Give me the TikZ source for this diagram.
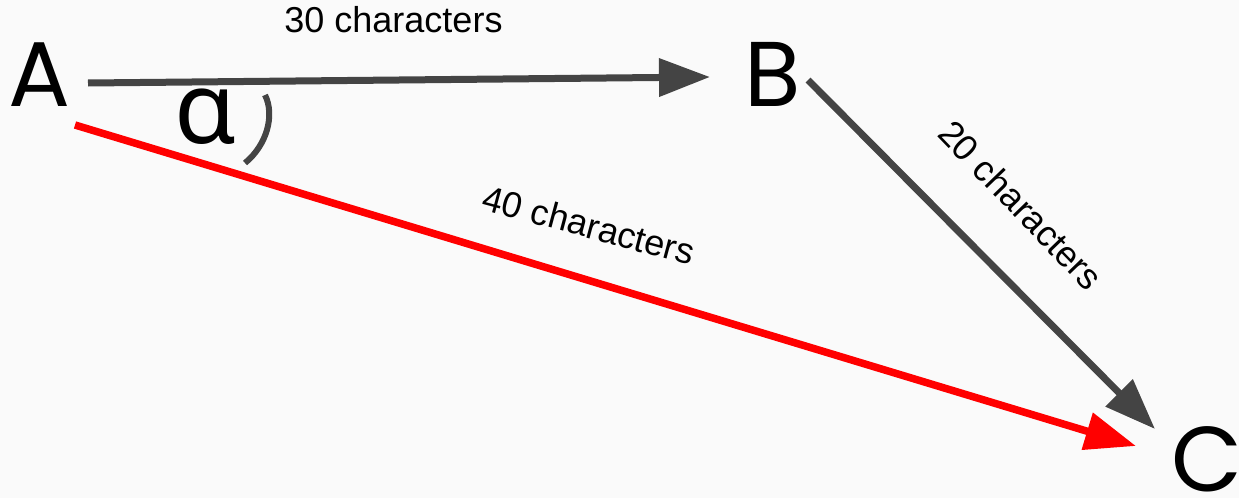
\documentclass[tikz,border=0pt]{standalone}
\usepackage{fontspec}
\setmainfont{Liberation Sans}
\newfontfamily\letterfont{Poppins}
\newfontfamily\greekfont{Noto Sans}
\usetikzlibrary{arrows.meta}
\definecolor{bgc}{HTML}{FAFAFA}
\definecolor{darkgr}{HTML}{444444}
\definecolor{redc}{HTML}{FF0000}
\tikzset{
  letter/.style={inner sep=0pt, font=\letterfont\fontsize{92}{92}\selectfont, text=black},
  lbl/.style={inner sep=0pt, font=\fontsize{36}{36}\selectfont, text=black},
  grayarrow/.style={draw=darkgr, line width=7pt, -{Triangle[length=51pt,width=37pt]}},
  redarrow/.style={draw=redc, line width=7.5pt, -{Triangle[length=51pt,width=37pt]}},
  anglearc/.style={draw=darkgr, line width=6pt}
}
\begin{document}
\begin{tikzpicture}[x=1pt,y=-1pt]
\fill[bgc] (0,0) rectangle (1239,498);
\useasboundingbox (0,0) rectangle (1239,498);
\node[letter] (A) at (40,74.5) {A};
\node[letter] (B) at (772.5,74.5) {B};
\node[letter] (C) at (1207,459) {C};
\node[inner sep=0pt, font=\greekfont\fontsize{100}{100}\selectfont] (alpha) at (206,117) {α};
\coordinate (ab1) at (88,83);
\coordinate (ab2) at (710,77);
\coordinate (bc1) at (808,80);
\coordinate (bc2) at (1155,429);
\coordinate (ac1) at (75,125);
\coordinate (ac2) at (1136,446);
\coordinate (arc1) at (265,95);
\coordinate (arc2) at (245,163);
\draw[grayarrow] (ab1) -- (ab2);
\draw[grayarrow] (bc1) -- (bc2);
\draw[redarrow] (ac1) -- (ac2);
\draw[anglearc] (arc1) .. controls (275,115) and (267,145) .. (arc2);
\node[lbl] (l30) at (393.5,20) {30 characters};
\node[lbl, rotate=-15] (l40) at (589,225) {40 characters};
\node[lbl, rotate=-46] (l20) at (1021,205) {20 characters};
\end{tikzpicture}
\end{document}
